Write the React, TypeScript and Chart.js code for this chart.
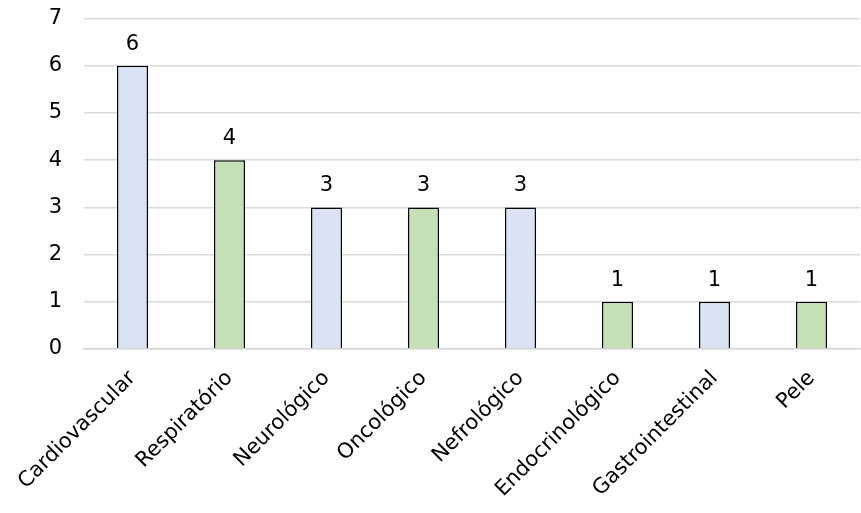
import React, { useEffect, useRef } from "react";
import { Chart, registerables } from "chart.js";

Chart.register(...registerables);

const categories = [
  "Cardiovascular",
  "Respiratório",
  "Neurológico",
  "Oncológico",
  "Nefrológico",
  "Endocrinológico",
  "Gastrointestinal",
  "Pele",
];
const counts = [6, 4, 3, 3, 3, 1, 1, 1];
const barColors = [
  "#DAE3F3",
  "#C5E0B4",
  "#DAE3F3",
  "#C5E0B4",
  "#DAE3F3",
  "#C5E0B4",
  "#DAE3F3",
  "#C5E0B4",
];
const yTicks = [0, 1, 2, 3, 4, 5, 6, 7];

const FONT = "'DejaVu Sans', sans-serif";
const FONT_SIZE = 21;
const WIDTH = 861;
const HEIGHT = 513;
const TOP_TRIM = 16; // canvas space hidden above the view

// Writes each bar's value just above it
const valueLabels = {
  id: "valueLabels",
  afterDatasetsDraw(chart: any) {
    const ctx = chart.ctx;
    const meta = chart.getDatasetMeta(0);
    ctx.save();
    ctx.font = `${FONT_SIZE}px ${FONT}`;
    ctx.fillStyle = "#000";
    ctx.textAlign = "center";
    ctx.textBaseline = "alphabetic";
    meta.data.forEach((bar: any, i: number) => {
      ctx.fillText(String(counts[i]), bar.x, bar.y - 16);
    });
    ctx.restore();
  },
};

export default function App() {
  const ref = useRef<HTMLCanvasElement>(null);

  useEffect(() => {
    document.body.style.margin = "0";
    const canvas = ref.current!;
    const ctx = canvas.getContext("2d")!;
    (ctx as any).letterSpacing = "1.2px";
    const chart = new Chart(ctx, {
      type: "bar",
      data: {
        labels: categories,
        datasets: [
          {
            data: counts,
            backgroundColor: barColors,
            borderColor: "#000",
            borderWidth: 1.5,
            barPercentage: 0.32,
            categoryPercentage: 1,
          },
        ],
      },
      options: {
        responsive: false,
        animation: false,
        layout: { padding: { top: 0, right: 1, left: 0, bottom: 0 } },
        plugins: { legend: { display: false }, tooltip: { enabled: false } },
        scales: {
          x: {
            afterFit: (axis: any) => {
              axis.height = 164;
            },
            grid: { display: false },
            border: { color: "#D9D9D9", width: 1.5 },
            ticks: {
              color: "#000",
              font: { family: FONT, size: FONT_SIZE },
              minRotation: 45,
              maxRotation: 45,
              padding: 9,
            },
          },
          y: {
            min: 0,
            max: 7,
            afterBuildTicks: (axis: any) => {
              axis.ticks = yTicks.map((v) => ({ value: v }));
            },
            afterFit: (axis: any) => {
              axis.width = 84;
            },
            grid: { color: "#D9D9D9", lineWidth: 1.5, drawTicks: false },
            border: { display: false },
            ticks: {
              color: "#000",
              font: { family: FONT, size: FONT_SIZE },
              padding: 22,
            },
          },
        },
      },
      plugins: [valueLabels],
    });
    return () => chart.destroy();
  }, []);

  return (
    <div style={{ width: WIDTH, height: HEIGHT, overflow: "hidden" }}>
      <canvas
        ref={ref}
        width={WIDTH}
        height={HEIGHT + TOP_TRIM}
        style={{ display: "block", marginTop: -TOP_TRIM }}
      />
    </div>
  );
}
